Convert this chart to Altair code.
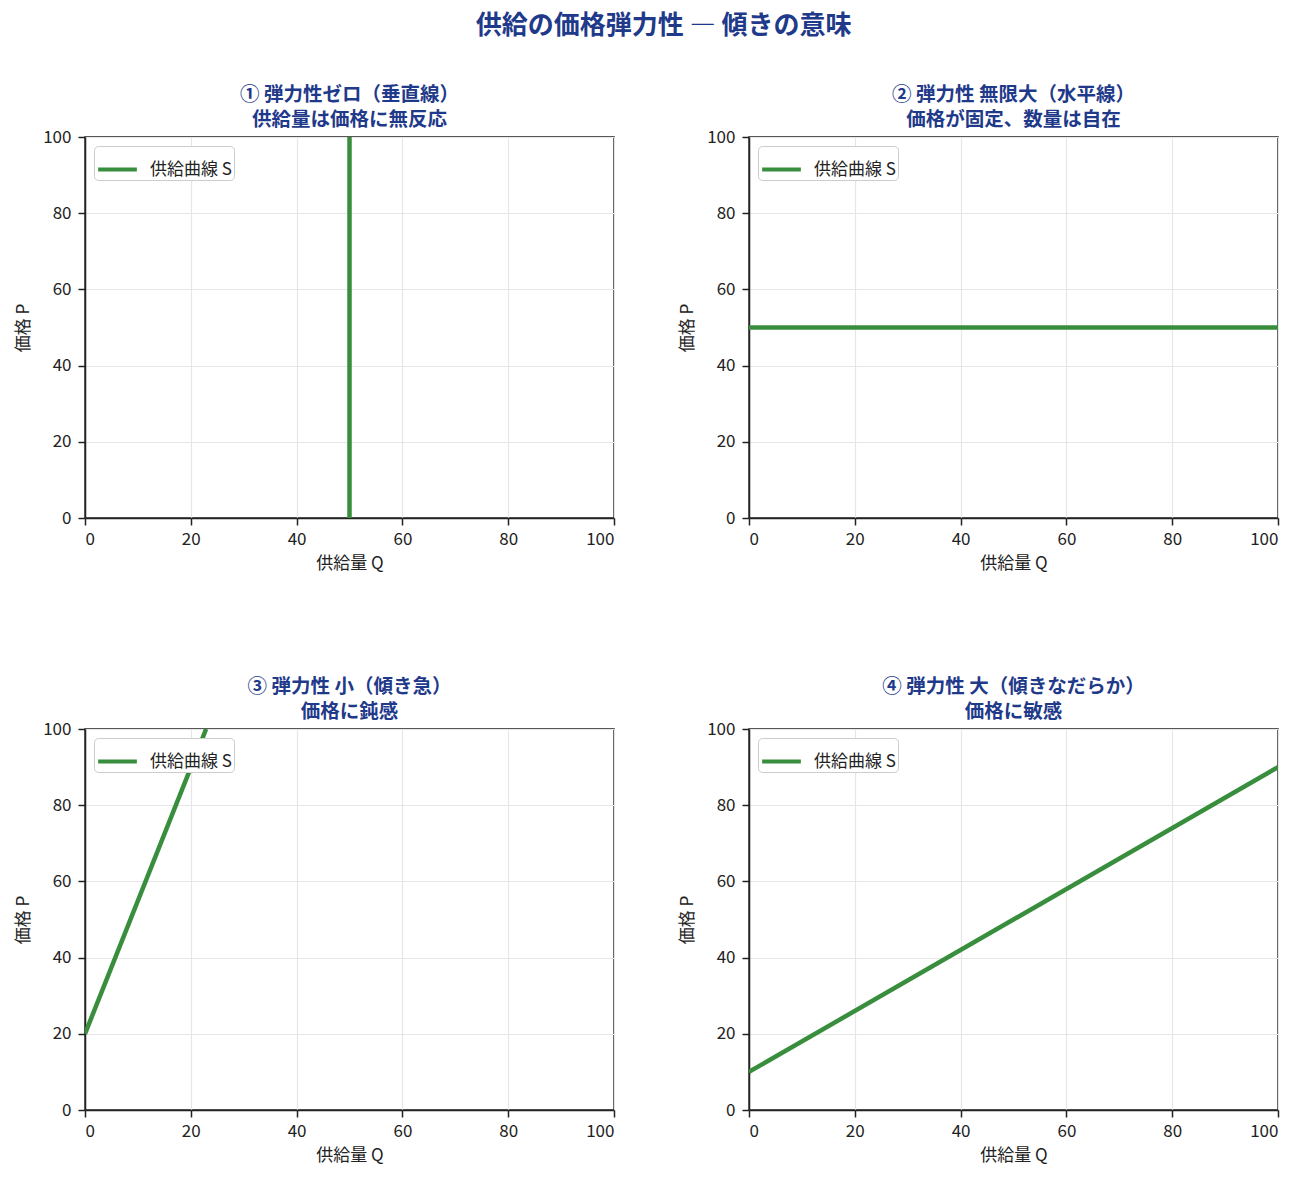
import altair as alt
import pandas as pd

FONT = "Noto Sans CJK JP"
GREEN = "#388e3c"
BLUE = "#1f3a8a"

main_title = "供給の価格弾力性 ― 傾きの意味"
titles = [
    ["① 弾力性ゼロ（垂直線）", "供給量は価格に無反応"],
    ["② 弾力性 無限大（水平線）", "価格が固定、数量は自在"],
    ["③ 弾力性 小（傾き急）", "価格に鈍感"],
    ["④ 弾力性 大（傾きなだらか）", "価格に敏感"],
]
q1 = [50, 50]; p1 = [0, 100]
q2 = [0, 100]; p2 = [50, 50]
q3 = [0, 22.9]; p3 = [20, 100]
q4 = [0, 100]; p4 = [10, 90]
series = "供給曲線 S"
ticks = [0, 20, 40, 60, 80, 100]


def panel(qs, ps, ttl):
    df = pd.DataFrame({"Q": qs, "P": ps, "i": list(range(len(qs))), "s": [series] * len(qs)})
    return alt.Chart(df).mark_line(strokeWidth=4.5, clip=True).encode(
        x=alt.X("Q:Q", scale=alt.Scale(domain=[0, 100], nice=False),
                axis=alt.Axis(values=ticks, title="供給量 Q", labelPadding=6, titlePadding=8)),
        y=alt.Y("P:Q", scale=alt.Scale(domain=[0, 100], nice=False),
                axis=alt.Axis(values=ticks, title="価格 P", labelPadding=7, titlePadding=10)),
        order="i:O",
        color=alt.Color("s:N", scale=alt.Scale(range=[GREEN]),
                        legend=alt.Legend(title=None, orient="top-left", offset=9,
                                          symbolType="stroke", symbolStrokeWidth=4,
                                          symbolSize=1500, labelFontSize=17,
                                          labelFont=FONT, labelColor="#222",
                                          strokeColor="#cccccc", fillColor="white",
                                          padding=2, cornerRadius=4, labelOffset=11)),
    ).properties(
        width=529, height=381,
        title=alt.TitleParams(text=ttl, fontSize=19.5, fontWeight="bold", color=BLUE,
                              font=FONT, anchor="middle", offset=-2, lineHeight=24.5),
    )


row1 = alt.hconcat(panel(q1, p1, titles[0]), panel(q2, p2, titles[1]), spacing=61
                   ).resolve_scale(color="independent").resolve_legend(color="independent")
row2 = alt.hconcat(panel(q3, p3, titles[2]), panel(q4, p4, titles[3]), spacing=61
                   ).resolve_scale(color="independent").resolve_legend(color="independent")

chart = alt.vconcat(row1, row2, spacing=104).resolve_scale(color="independent").resolve_legend(
    color="independent").properties(
    title=alt.TitleParams(text=main_title, fontSize=26, fontWeight="bold", color=BLUE,
                          font=FONT, anchor="middle", offset=45, dx=17),
).configure(font=FONT).configure_axis(
    labelFont=FONT, titleFont=FONT, labelFontSize=17, titleFontSize=17,
    labelColor="#222", titleColor="#222", titleFontWeight="normal",
    domainColor="#222", tickColor="#222", gridColor="#e6e6e6", gridWidth=1.2,
    tickSize=7, tickWidth=1.5, domainWidth=1.5,
).configure_view(stroke="#222", strokeWidth=1.5)

chart.save("out.html", embed_options={"renderer": "svg", "actions": False})
